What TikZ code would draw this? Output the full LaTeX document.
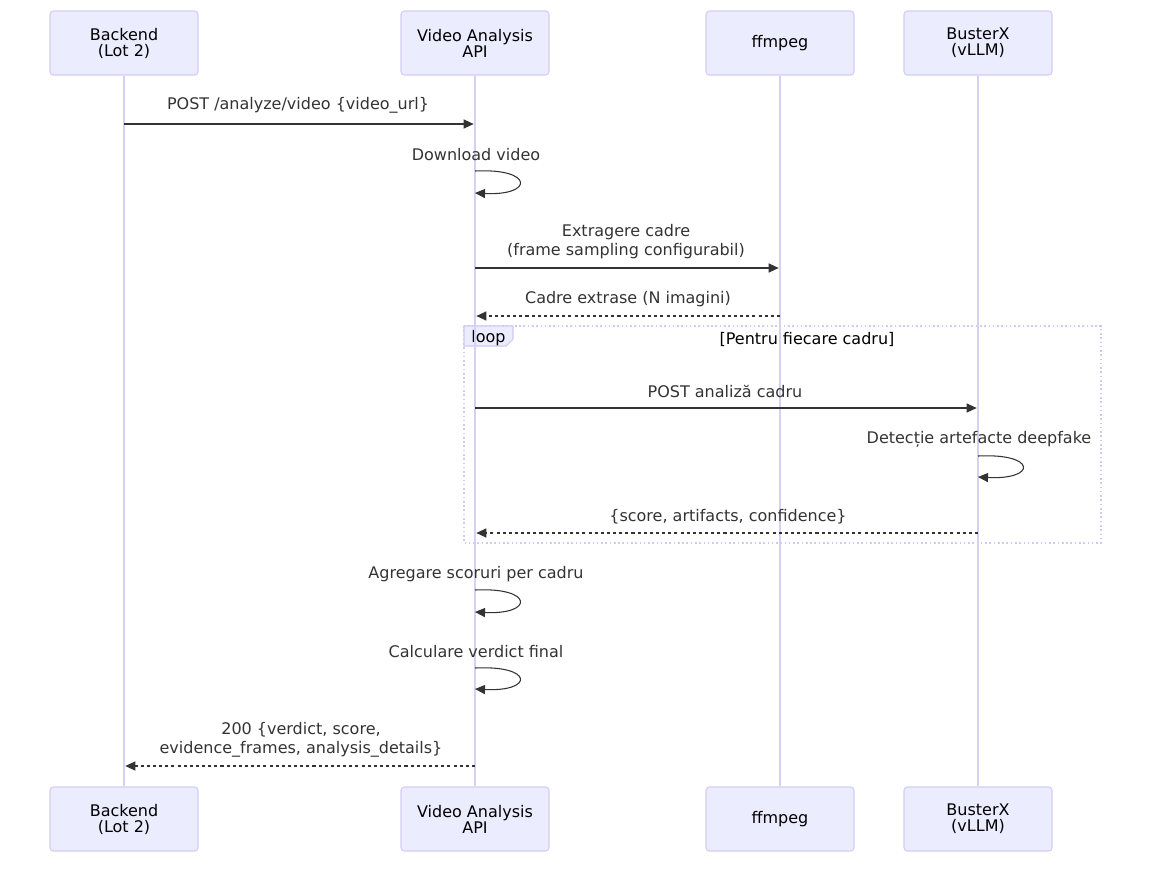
\documentclass[tikz,border=0pt]{standalone}
\usepackage{fontspec}
\setmainfont{DejaVu Sans}
\usepackage{tikz}
\usetikzlibrary{
  arrows.meta,
  positioning,
  calc,
}
\definecolor{actorbg}{HTML}{ECECFF}
\definecolor{actorline}{HTML}{D4CCF4}
\definecolor{lifeline}{HTML}{D8D0F2}
\definecolor{loopline}{HTML}{CFCAF0}
\definecolor{msgtext}{HTML}{333333}

\begin{document}
\begin{tikzpicture}[
    x=0.75pt, y=-0.75pt,
    actor/.style={rectangle, rounded corners=2.5pt, draw=actorline, fill=actorbg,
                  line width=0.8pt, minimum width=111pt, minimum height=48pt,
                  align=center, font=\fontsize{12}{12}\selectfont, text=black},
    lbl/.style={inner sep=0pt, align=center, text=msgtext,
                font=\fontsize{12}{14.25}\selectfont},
    life/.style={draw=lifeline, line width=1.2pt},
    msg/.style={draw=msgtext, line width=0.8pt,
                -{Triangle[length=7.5pt, width=6.8pt]}, shorten >=1pt},
    reply/.style={msg, dash pattern=on 2.3pt off 2.3pt},
    self/.style={draw=msgtext, line width=0.8pt,
                 -{Triangle[length=7.5pt, width=6.8pt]}},
  ]
  \useasboundingbox (0,0) rectangle (1159,868);

  % actors, top and bottom
  \node[actor] (backT)   at (124,43)  {Backend\\(Lot 2)};
  \node[actor] (apiT)    at (475,43)  {Video Analysis\\API};
  \node[actor] (ffT)     at (780,43)  {ffmpeg};
  \node[actor] (busterT) at (978,43)  {BusterX\\(vLLM)};
  \node[actor] (backB)   at (124,819) {Backend\\(Lot 2)};
  \node[actor] (apiB)    at (475,819) {Video Analysis\\API};
  \node[actor] (ffB)     at (780,819) {ffmpeg};
  \node[actor] (busterB) at (978,819) {BusterX\\(vLLM)};

  % loop frame
  \draw[loopline, line width=1.2pt, dotted] (464,326) rectangle (1101,543);
  \draw[loopline, line width=0.8pt, fill=actorbg]
    (464,326) -- (513,326) -- (513,339) -- (506,346) -- (464,346) -- cycle;
  \node[lbl, text=black] (looplbl) at (488.5,338) {loop};
  \node[lbl, text=black] (cond) at (807,339) {[Pentru fiecare cadru]};

  % lifelines
  \foreach \a in {back, api, ff, buster}
    \draw[life] (\a T) -- (\a B);

  % messages
  \node[lbl] (m1) at (298,105.5) {POST /analyze/video \{video\_url\}};
  \draw[msg] (backT |- 0,124) -- (apiT |- 0,124);

  \node[lbl] (m2) at (476,154.5) {Download video};
  \draw[self] (apiT |- 0,171) .. controls (534,168) and (534,196) .. (apiT |- 0,193);

  \node[lbl] (m3) at (626,242) {Extragere cadre\\(frame sampling configurabil)};
  \draw[msg] (apiT |- 0,268) -- (ffT |- 0,268);

  \node[lbl] (m4) at (628,299.5) {Cadre extrase (N imagini)};
  \draw[reply] (ffT |- 0,316) -- (apiT |- 0,316);

  \node[lbl] (m5) at (725,391.5) {POST analiză cadru};
  \draw[msg] (apiT |- 0,408) -- (busterT |- 0,408);

  \node[lbl] (m6) at (979,439.5) {Detecție artefacte deepfake};
  \draw[self] (busterT |- 0,456) .. controls (1037,453) and (1037,480) .. (busterT |- 0,477);

  \node[lbl] (m7) at (728,516.5) {\{score, artifacts, confidence\}};
  \draw[reply] (busterT |- 0,533) -- (apiT |- 0,533);

  \node[lbl] (m8) at (476,574.5) {Agregare scoruri per cadru};
  \draw[self] (apiT |- 0,590) .. controls (534,587) and (534,615) .. (apiT |- 0,612);

  \node[lbl] (m9) at (476,651.5) {Calculare verdict final};
  \draw[self] (apiT |- 0,668) .. controls (534,665) and (534,692) .. (apiT |- 0,689);

  \node[lbl] (m10) at (301,739.5) {200 \{verdict, score,\\evidence\_frames, analysis\_details\}};
  \draw[reply] (apiT |- 0,766) -- (backT |- 0,766);
\end{tikzpicture}
\end{document}
